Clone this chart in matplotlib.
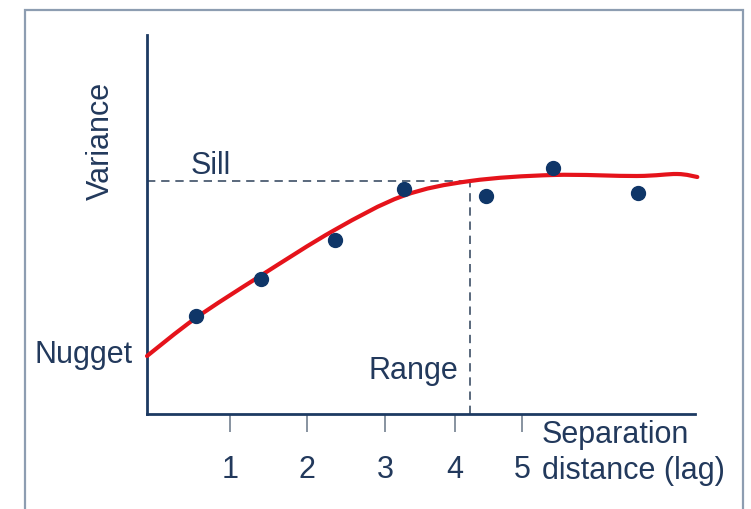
import matplotlib
matplotlib.use("Agg")
import matplotlib.pyplot as plt
from matplotlib.patches import Rectangle, PathPatch
from matplotlib.path import Path

plt.rcParams['font.family'] = ['Liberation Sans', 'DejaVu Sans']

# ---- data ----
lag = [0.56, 1.40, 2.35, 3.25, 4.30, 5.17, 6.26]
semivariance = [0.98, 1.35, 1.74, 2.25, 2.18, 2.46, 2.21]

model_x = [-0.07, 0.56, 1.39, 2.35, 3.23, 4.10, 5.17, 6.25, 6.77, 7.03]
model_y = [0.58, 0.96, 1.38, 1.84, 2.18, 2.33, 2.39, 2.38, 2.40, 2.37]

nugget = 0.58
sill = 2.33
range_lag = 4.10

tick_positions = [1.0, 1.99, 3.0, 3.9, 4.77]
tick_labels = ['1', '2', '3', '4', '5']

# ---- styling ----
navy = '#1d3a62'
text_col = '#22395c'
W, H = 751, 510
fig = plt.figure(figsize=(W / 100, H / 100), dpi=100)
fig.patch.set_facecolor('white')

# outer frame
fig.add_artist(Rectangle((25 / W, -0.05), (743 - 25) / W, 1.05 - 11 / H,
                         transform=fig.transFigure, fill=False,
                         edgecolor='#8d9db1', linewidth=1.6))

ax = fig.add_axes([147 / W, 1 - 415 / H, (695 - 147) / W, (415 - 36) / H])
ax.set_xlim(-0.07, 7.0)
ax.set_ylim(0, 3.79)

for s in ['top', 'right']:
    ax.spines[s].set_visible(False)
for s in ['left', 'bottom']:
    ax.spines[s].set_color(navy)
    ax.spines[s].set_linewidth(2.0)

ax.set_yticks([])
ax.set_xticks(tick_positions)
ax.set_xticklabels(tick_labels)
ax.tick_params(axis='x', direction='out', length=13, width=1.3, color='#7e8a98',
               pad=16, labelsize=22, labelcolor=text_col)

# dashed sill and range guides
ax.plot([ax.get_xlim()[0], range_lag], [sill, sill], linestyle=(0, (5, 3.5)),
        color='#3d4f66', linewidth=1.2, zorder=2)
ax.plot([range_lag, range_lag], [0, sill], linestyle=(0, (5, 3.5)),
        color='#3d4f66', linewidth=1.2, zorder=2)

# model curve: smooth (Catmull-Rom -> cubic Bezier) through the read points
verts = [(model_x[0], model_y[0])]
codes = [Path.MOVETO]
n = len(model_x)
for i in range(n - 1):
    p0 = (model_x[max(i - 1, 0)], model_y[max(i - 1, 0)])
    p1 = (model_x[i], model_y[i])
    p2 = (model_x[i + 1], model_y[i + 1])
    p3 = (model_x[min(i + 2, n - 1)], model_y[min(i + 2, n - 1)])
    c1 = (p1[0] + (p2[0] - p0[0]) / 6, p1[1] + (p2[1] - p0[1]) / 6)
    c2 = (p2[0] - (p3[0] - p1[0]) / 6, p2[1] - (p3[1] - p1[1]) / 6)
    verts += [c1, c2, p2]
    codes += [Path.CURVE4] * 3
curve = PathPatch(Path(verts, codes), facecolor='none', edgecolor='#e5131b',
                  linewidth=3.0, capstyle='round', joinstyle='round',
                  zorder=3, clip_on=False, transform=ax.transData)
ax.add_patch(curve)

# empirical points
ax.plot(lag, semivariance, 'o', color='#0f3668', markersize=10, zorder=4)

# annotations
fs = 22
ax.text(0.49, 2.49, 'Sill', fontsize=fs, color=text_col, ha='left', va='center')
ax.text(3.94, 0.44, 'Range', fontsize=fs, color=text_col, ha='right', va='center')
ax.text(-0.25, 0.60, 'Nugget', fontsize=fs, color=text_col, ha='right',
        va='center', clip_on=False)
ax.text(-0.66, 2.74, 'Variance', fontsize=fs, color=text_col, ha='center',
        va='center', rotation=90, clip_on=False)
ax.text(5.02, -0.05, 'Separation\ndistance (lag)', fontsize=fs, color=text_col,
        ha='left', va='top', linespacing=1.28, clip_on=False)

fig.savefig('out.png', dpi=100)
